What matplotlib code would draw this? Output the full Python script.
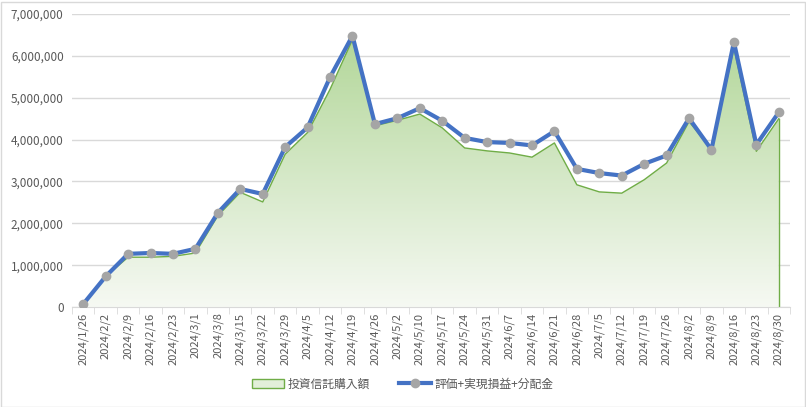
import numpy as np
import matplotlib.pyplot as plt
from matplotlib.colors import LinearSegmentedColormap
from matplotlib.patches import Patch
from matplotlib.lines import Line2D
from matplotlib.ticker import FuncFormatter, FixedLocator

plt.rcParams['font.family'] = ['Noto Sans CJK JP', 'DejaVu Sans']

dates = ['2024/1/26', '2024/2/2', '2024/2/9', '2024/2/16', '2024/2/23', '2024/3/1',
         '2024/3/8', '2024/3/15', '2024/3/22', '2024/3/29', '2024/4/5', '2024/4/12',
         '2024/4/19', '2024/4/26', '2024/5/2', '2024/5/10', '2024/5/17', '2024/5/24',
         '2024/5/31', '2024/6/7', '2024/6/14', '2024/6/21', '2024/6/28', '2024/7/5',
         '2024/7/12', '2024/7/19', '2024/7/26', '2024/8/2', '2024/8/9', '2024/8/16',
         '2024/8/23', '2024/8/30']

# 投資信託購入額
purchase = [50000, 730000, 1190000, 1190000, 1210000, 1290000, 2180000, 2740000,
            2510000, 3650000, 4170000, 5200000, 6390000, 4330000, 4460000, 4610000,
            4280000, 3800000, 3730000, 3680000, 3580000, 3920000, 2920000, 2750000,
            2720000, 3040000, 3440000, 4430000, 3760000, 6190000, 3720000, 4500000]

# 評価+実現損益+分配金
value = [70000, 730000, 1270000, 1290000, 1270000, 1390000, 2250000, 2820000,
         2700000, 3820000, 4290000, 5490000, 6480000, 4370000, 4510000, 4750000,
         4450000, 4040000, 3940000, 3920000, 3860000, 4200000, 3300000, 3200000,
         3140000, 3420000, 3620000, 4510000, 3760000, 6330000, 3880000, 4650000]

x = np.arange(len(dates))

fig = plt.figure(figsize=(8.06, 4.07), dpi=100)
ax = fig.add_axes([72/806, 100/407, 718/806, 293/407])

# gradient area
poly = ax.fill_between(x, purchase, 0, facecolor='none', edgecolor='none')
cmap = LinearSegmentedColormap.from_list('g', ['#f6f9f3', '#b3d79a'])
grad = np.linspace(0, 1, 256).reshape(-1, 1)
img = ax.imshow(grad, cmap=cmap, origin='lower', aspect='auto',
                extent=[-0.5, len(x) - 0.5, 0, max(purchase)], zorder=1)
img.set_clip_path(poly.get_paths()[0], transform=ax.transData)
ax.plot(x, purchase, color='#70ad47', lw=1, zorder=2)
ax.plot([x[-1], x[-1]], [0, purchase[-1]], color='#70ad47', lw=1, zorder=2)

ax.plot(x, value, color='#4472c4', lw=3, marker='o', ms=6,
        mfc='#a5a5a5', mec='#a5a5a5', zorder=3)

ax.set_xlim(-0.5, len(x) - 0.5)
ax.set_ylim(0, 7000000)
ax.set_yticks(np.arange(0, 7000001, 1000000))
ax.yaxis.set_major_formatter(FuncFormatter(lambda v, p: f'{int(v):,}'))
ax.grid(axis='y', color='#d9d9d9', lw=1)
ax.set_axisbelow(True)

ax.set_xticks(x)
ax.set_xticklabels(dates, rotation=90)
ax.xaxis.set_minor_locator(FixedLocator(np.arange(-0.5, len(x), 1)))
ax.tick_params(axis='x', which='major', length=0, pad=4, labelsize=8, labelcolor='#595959')
ax.tick_params(axis='x', which='minor', length=5, color='#d9d9d9')
ax.tick_params(axis='y', length=0, labelsize=8.5, labelcolor='#595959', pad=6)

for s in ['top', 'right', 'left']:
    ax.spines[s].set_visible(False)
ax.spines['bottom'].set_color('#d9d9d9')

handles = [Patch(facecolor='#e2efd9', edgecolor='#70ad47', lw=1),
           Line2D([0], [0], color='#4472c4', lw=3, marker='o', ms=6,
                  mfc='#a5a5a5', mec='#a5a5a5')]
fig.legend(handles, ['投資信託購入額', '評価+実現損益+分配金'], loc='center',
           bbox_to_anchor=(0.5, 23/407), ncol=2, frameon=False, fontsize=8.5,
           labelcolor='#595959', handlelength=2.7, columnspacing=2.5, handletextpad=0.3)

fig.add_artist(plt.Rectangle((0.5/806, 0.5/407), 804/806, 405/407, fill=False,
                             edgecolor='#d9d9d9', lw=1, transform=fig.transFigure))

fig.savefig('out.png', dpi=100)
